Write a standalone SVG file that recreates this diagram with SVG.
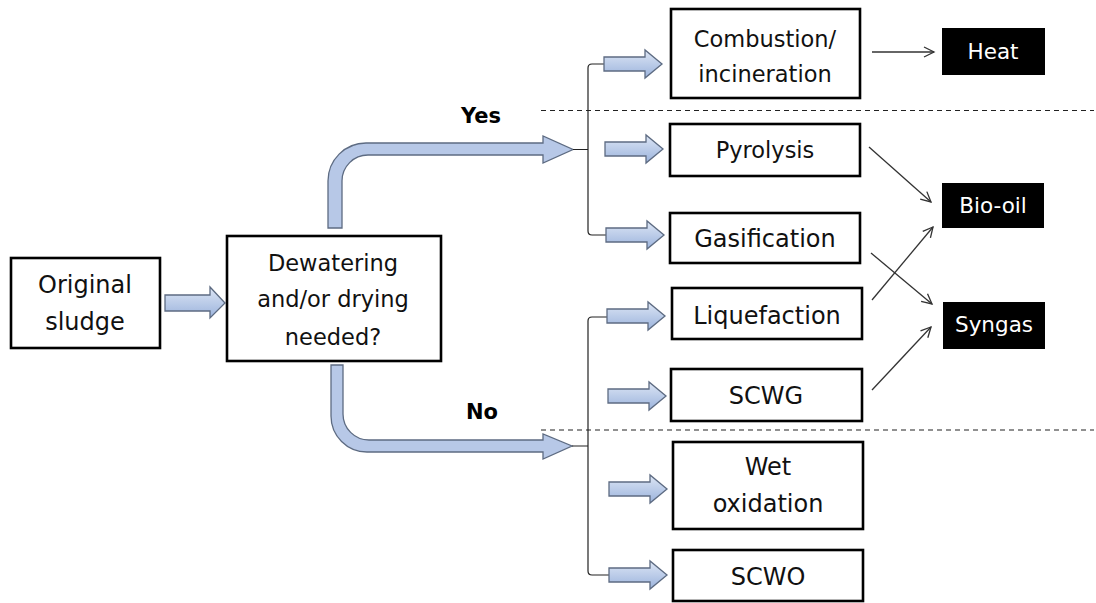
<svg xmlns="http://www.w3.org/2000/svg" width="1096" height="603" viewBox="0 0 1096 603">
<style>
.box{fill:#fff;stroke:#000;stroke-width:2.6}
.dark{fill:#000;stroke:none}
.t{font-family:"DejaVu Sans",sans-serif;font-size:24px;fill:#111;text-anchor:middle}
.s{font-size:22.5px}
.w{font-family:"DejaVu Sans",sans-serif;font-size:21.5px;fill:#fff;text-anchor:middle}
.yn{font-family:"DejaVu Sans",sans-serif;font-weight:bold;font-size:21px;fill:#000;text-anchor:middle}
.blk{fill:url(#g);stroke:#5d6b82;stroke-width:1.3;stroke-linejoin:miter}
.big{fill:#b7c8e7;stroke:#5d6b82;stroke-width:1.3;stroke-linejoin:miter}
.thin{fill:none;stroke:#222;stroke-width:1.2}
.arr{fill:none;stroke:#333;stroke-width:1.3;marker-end:url(#v)}
.dash{fill:none;stroke:#222;stroke-width:1.2;stroke-dasharray:5 4}
</style>
<defs>
<linearGradient id="g" x1="0" y1="0" x2="0" y2="1">
<stop offset="0" stop-color="#dde6f5"/>
<stop offset="1" stop-color="#9bb3dc"/>
</linearGradient>
<marker id="v" markerWidth="14" markerHeight="14" refX="11" refY="6" orient="auto" markerUnits="userSpaceOnUse">
<path d="M1,1 L11,6 L1,11" fill="none" stroke="#333" stroke-width="1.3"/>
</marker>
<path id="sa" d="M0,-7 H41 V-14 L58,0 L41,14 V7 H0 Z"/>
</defs>

<g id="dividers">
<line class="dash" x1="541" y1="110.5" x2="1094" y2="110.5"/>
<line class="dash" x1="541" y1="430" x2="1094" y2="430"/>
</g>

<g id="connectors">
<path class="blk" d="M165,295 H210 V287 L225,303 L210,318 V311 H165 Z"/>
<path class="big" d="M328,228 V181 A38,38 0 0 1 366,143 H543 V136 L573,149.5 L543,163 V155 H368 A26,26 0 0 0 342,181 V228 Z"/>
<path class="big" d="M331,365 V416 A36,36 0 0 0 367,452 H543 V459 L572,446 L543,434 V440 H369 A26,26 0 0 1 343,414 V365 Z"/>
<path class="thin" d="M573,149.5 H588 M605,64 H592 Q588,64 588,68 V231 Q588,235 592,235 H606"/>
<path class="thin" d="M572,446 H588 M607,317 H592 Q588,317 588,321 V571 Q588,575 592,575 H609"/>
<use href="#sa" class="blk" transform="translate(604,64)"/>
<use href="#sa" class="blk" transform="translate(605,149)"/>
<use href="#sa" class="blk" transform="translate(606,235)"/>
<use href="#sa" class="blk" transform="translate(607,316)"/>
<use href="#sa" class="blk" transform="translate(608,396)"/>
<use href="#sa" class="blk" transform="translate(609,489)"/>
<use href="#sa" class="blk" transform="translate(609,575)"/>
<line class="arr" x1="872" y1="52" x2="934" y2="52"/>
<line class="arr" x1="869" y1="147" x2="931" y2="202"/>
<line class="arr" x1="871" y1="253" x2="932" y2="304"/>
<line class="arr" x1="872" y1="300" x2="933" y2="227"/>
<line class="arr" x1="872" y1="390" x2="931" y2="327"/>
</g>

<g id="label-yes"><text class="yn" x="481" y="123">Yes</text></g>
<g id="label-no"><text class="yn" x="482" y="419">No</text></g>

<g id="original-sludge">
<rect class="box" x="11" y="258" width="149" height="90"/>
<text class="t" x="85" y="293">Original</text>
<text class="t" x="85" y="330">sludge</text>
</g>
<g id="dewatering">
<rect class="box" x="227" y="236" width="214" height="125"/>
<text class="t s" x="333" y="271">Dewatering</text>
<text class="t s" x="333" y="307">and/or drying</text>
<text class="t s" x="333" y="345">needed?</text>
</g>
<g id="combustion">
<rect class="box" x="671" y="9" width="189" height="89"/>
<text class="t s" x="765" y="47">Combustion/</text>
<text class="t s" x="765" y="82">incineration</text>
</g>
<g id="pyrolysis">
<rect class="box" x="670" y="124" width="190" height="52"/>
<text class="t s" x="765" y="158">Pyrolysis</text>
</g>
<g id="gasification">
<rect class="box" x="670" y="213" width="190" height="50"/>
<text class="t" x="765" y="247">Gasification</text>
</g>
<g id="liquefaction">
<rect class="box" x="672" y="288" width="190" height="51"/>
<text class="t" x="767" y="324">Liquefaction</text>
</g>
<g id="scwg">
<rect class="box" x="671" y="369" width="191" height="52"/>
<text class="t" x="766" y="404">SCWG</text>
</g>
<g id="wet-oxidation">
<rect class="box" x="673" y="442" width="190" height="87"/>
<text class="t" x="768" y="475">Wet</text>
<text class="t" x="768" y="512">oxidation</text>
</g>
<g id="scwo">
<rect class="box" x="673" y="550" width="190" height="51"/>
<text class="t" x="768" y="585">SCWO</text>
</g>
<g id="heat">
<rect class="dark" x="942" y="28" width="103" height="47"/>
<text class="w" x="993" y="59">Heat</text>
</g>
<g id="bio-oil">
<rect class="dark" x="942" y="183" width="102" height="45"/>
<text class="w" x="993" y="213">Bio-oil</text>
</g>
<g id="syngas">
<rect class="dark" x="943" y="302" width="102" height="47"/>
<text class="w" x="994" y="332">Syngas</text>
</g>
</svg>
